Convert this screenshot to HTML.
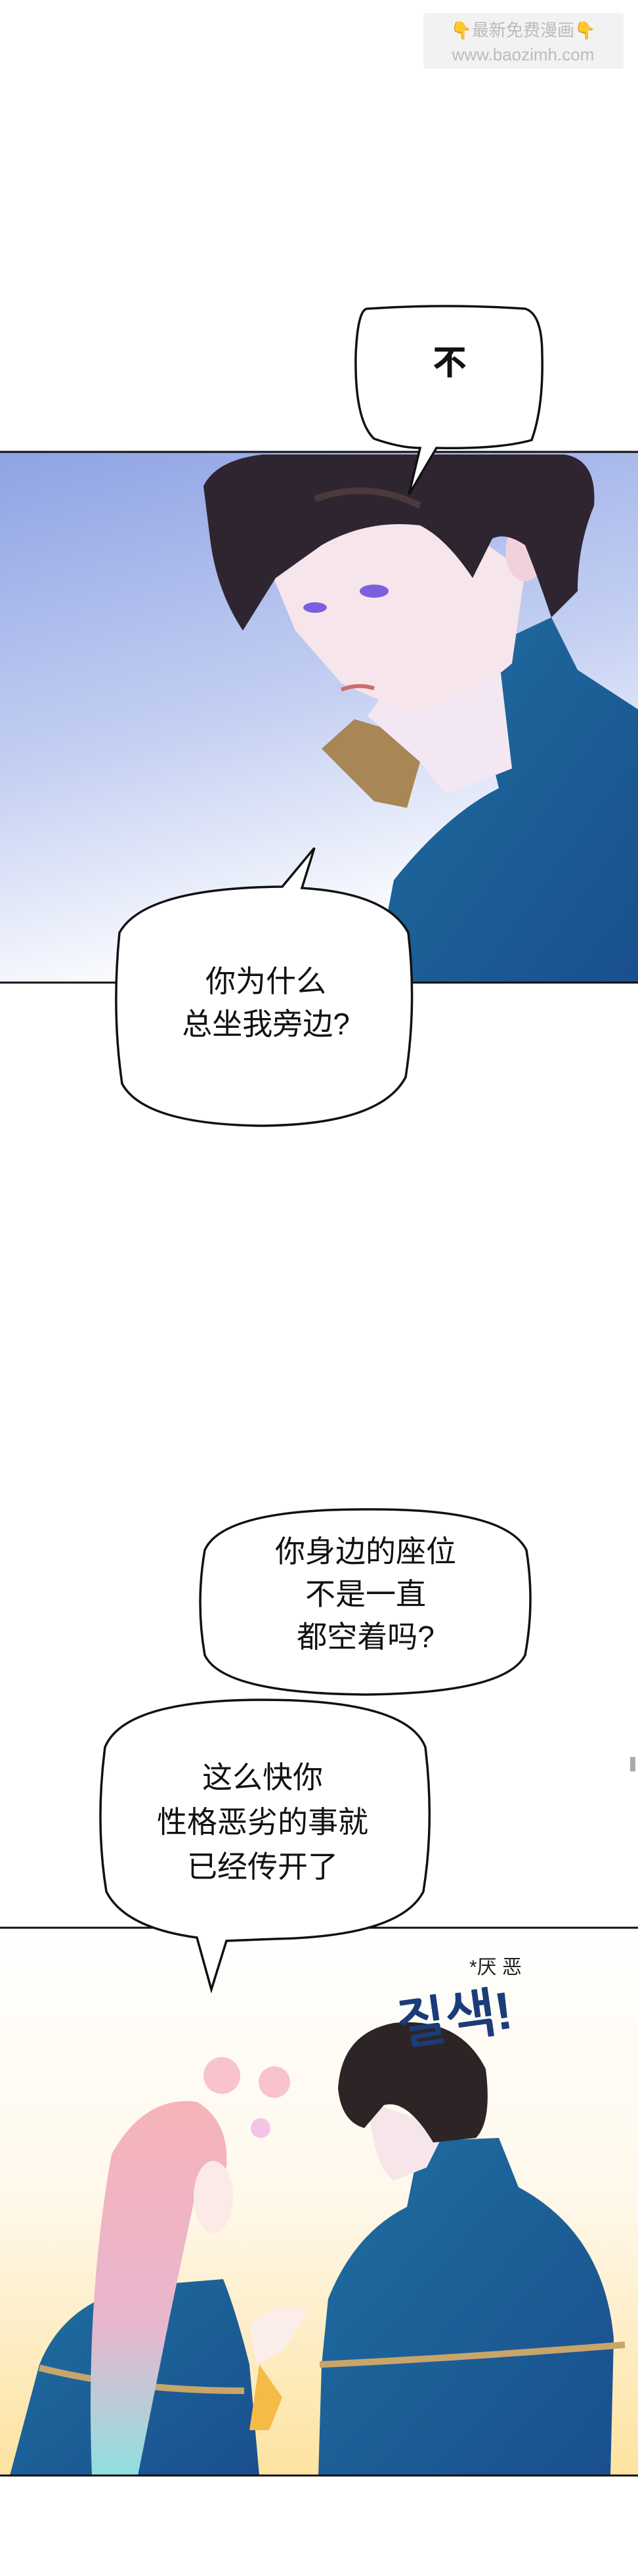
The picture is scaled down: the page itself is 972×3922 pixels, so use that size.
<!DOCTYPE html>
<html><head><meta charset="utf-8"><style>
html,body{margin:0;padding:0;background:#fff;}
body{width:972px;height:3922px;position:relative;overflow:hidden;font-family:"Liberation Sans","Noto Sans CJK SC",sans-serif;}
svg{position:absolute;left:0;top:0;}
</style></head><body>
<svg width="972" height="3922" viewBox="0 0 972 3922" xmlns="http://www.w3.org/2000/svg">
<defs>
<linearGradient id="sky" x1="0" y1="0" x2="0.3" y2="1">
<stop offset="0" stop-color="#8fa3e4"/><stop offset="0.55" stop-color="#c3cff2"/><stop offset="1" stop-color="#ffffff"/></linearGradient>
<linearGradient id="warm" x1="0" y1="0" x2="0" y2="1">
<stop offset="0" stop-color="#ffffff"/><stop offset="0.5" stop-color="#fff8ea"/><stop offset="1" stop-color="#fde3a0"/></linearGradient>
<linearGradient id="cloak" x1="0" y1="0" x2="1" y2="1">
<stop offset="0" stop-color="#1e6fa0"/><stop offset="1" stop-color="#1a4f8e"/></linearGradient>
<linearGradient id="phair" x1="0" y1="0" x2="0" y2="1">
<stop offset="0" stop-color="#f6b3b8"/><stop offset="0.6" stop-color="#e9b6cf"/><stop offset="1" stop-color="#8fe0e0"/></linearGradient>
</defs>

<!-- watermark -->
<rect x="645" y="20" width="305" height="85" rx="4" fill="#f2f2f2"/>
<text x="797" y="55" font-size="26" text-anchor="middle" fill="#bbb">👇最新免费漫画👇</text>
<text x="797" y="92" font-size="26" text-anchor="middle" fill="#bbb">www.baozimh.com</text>

<!-- Panel 1 -->
<rect x="0" y="688" width="972" height="808" fill="url(#sky)"/>
<path d="M570 1496 L600 1340 Q680 1240 760 1200 L712 1000 L840 940 L880 1020 L972 1080 L972 1496 Z" fill="url(#cloak)"/>
<path d="M490 1140 L540 1095 L590 1110 L640 1160 L620 1230 L570 1220 Z" fill="#a88655"/>
<path d="M560 1090 L610 1020 L710 980 L760 1000 L780 1170 L680 1210 L640 1160 Z" fill="#f3e7f4"/>
<path d="M400 840 Q520 780 700 800 L800 870 L780 1010 Q700 1080 610 1080 L520 1040 L450 960 Z" fill="#f7e5ec"/>
<ellipse cx="800" cy="840" rx="30" ry="45" fill="#f1d2dc"/>
<path d="M520 1050 Q545 1040 570 1048" stroke="#d26a6a" stroke-width="6" fill="none"/>
<ellipse cx="570" cy="900" rx="22" ry="10" fill="#7a5fe0"/>
<ellipse cx="480" cy="925" rx="18" ry="8" fill="#7a5fe0"/>
<path d="M310 740 Q330 700 400 692 L860 692 Q910 700 905 770 Q880 830 880 900 L840 940 Q820 880 800 830 Q770 810 750 820 L720 880 Q680 820 640 800 Q560 790 490 830 L420 880 L370 960 Q330 900 320 820 Z" fill="#2f2531"/>
<path d="M480 760 Q560 730 640 770" stroke="#4a3a3c" stroke-width="10" fill="none"/>

<line x1="0" y1="688" x2="972" y2="688" stroke="#111" stroke-width="3"/>
<line x1="0" y1="1496" x2="972" y2="1496" stroke="#111" stroke-width="3"/>

<!-- Bubble 不 -->
<path d="M560 470 Q545 470 542 540 Q540 640 570 668 Q610 682 640 682 L623 753 L665 682 Q760 684 810 670 Q828 620 826 540 Q826 478 800 470 Q680 462 560 470 Z" fill="#fff" stroke="#111" stroke-width="3.5"/>
<text x="685" y="570" font-size="52" font-weight="bold" text-anchor="middle" fill="#111">不</text>

<!-- Bubble 2 -->
<path d="M430 1350 L479 1291 L460 1352 Q590 1360 622 1420 Q635 1530 618 1640 Q580 1712 400 1714 Q220 1712 186 1650 Q170 1540 182 1420 Q220 1352 430 1350 Z" fill="#fff" stroke="#111" stroke-width="3.5"/>
<text x="405" y="1510" font-size="46" text-anchor="middle" fill="#111">你为什么</text>
<text x="405" y="1575" font-size="46" text-anchor="middle" fill="#111">总坐我旁边?</text>

<rect x="960" y="2675" width="8" height="22" fill="#aaa"/>

<!-- Panel 2 -->
<rect x="0" y="2935" width="972" height="834" fill="url(#warm)"/>
<path d="M485 3769 L490 3600 L500 3500 Q540 3400 620 3360 L640 3260 L760 3255 L790 3330 Q920 3400 935 3560 L930 3769 Z" fill="url(#cloak)"/>
<path d="M487 3600 Q700 3590 952 3570" stroke="#c8a56a" stroke-width="10" fill="none"/>
<path d="M560 3200 Q570 3300 600 3320 L650 3300 L680 3240 Z" fill="#f6e6ea"/>
<path d="M515 3180 Q520 3095 600 3080 Q700 3070 740 3150 Q750 3230 725 3255 L660 3262 Q620 3195 585 3205 L555 3240 Q520 3230 515 3180 Z" fill="#2d2426"/>
<path d="M15 3769 L60 3600 Q100 3500 220 3480 L340 3470 Q360 3520 380 3600 L395 3769 Z" fill="url(#cloak)"/>
<path d="M60 3605 Q200 3640 372 3640" stroke="#c8a56a" stroke-width="10" fill="none"/>
<path d="M140 3769 Q130 3500 170 3280 Q220 3190 300 3200 Q350 3230 345 3300 L300 3330 L260 3520 L210 3769 Z" fill="url(#phair)"/>
<ellipse cx="325" cy="3345" rx="30" ry="55" fill="#fbeae6"/>
<path d="M380 3540 Q420 3500 470 3520 L430 3580 L390 3600 Z" fill="#fbeeea"/>
<path d="M395 3600 L430 3650 L410 3700 L380 3700 Z" fill="#f4bb47"/>
<circle cx="338" cy="3160" r="28" fill="#f8c3cb"/>
<circle cx="418" cy="3170" r="24" fill="#f8c3cb"/>
<circle cx="397" cy="3240" r="15" fill="#f4c4e6"/>
<text x="715" y="3005" font-size="30" fill="#222">*厌 恶</text>
<text x="605" y="3100" font-size="80" font-weight="bold" fill="#1b3c78" transform="rotate(-8 690 3080)" font-family="Liberation Sans,NanumGothic,sans-serif">질색!</text>

<line x1="0" y1="2935" x2="972" y2="2935" stroke="#111" stroke-width="3"/>
<line x1="0" y1="3769" x2="972" y2="3769" stroke="#111" stroke-width="3"/>

<!-- Bubble 3 -->
<path d="M555 2298 Q770 2296 802 2360 Q815 2440 800 2520 Q770 2578 555 2580 Q340 2578 312 2520 Q298 2440 312 2360 Q340 2298 555 2298 Z" fill="#fff" stroke="#111" stroke-width="3.5"/>
<text x="557" y="2378" font-size="46" text-anchor="middle" fill="#111">你身边的座位</text>
<text x="557" y="2443" font-size="46" text-anchor="middle" fill="#111">不是一直</text>
<text x="557" y="2508" font-size="46" text-anchor="middle" fill="#111">都空着吗?</text>

<!-- Bubble 4 (over panel line) -->
<path d="M400 2588 Q620 2588 648 2660 Q662 2775 645 2880 Q610 2948 420 2952 L345 2955 L322 3029 L300 2950 Q190 2935 162 2880 Q145 2775 160 2660 Q190 2588 400 2588 Z" fill="#fff" stroke="#111" stroke-width="3.5"/>
<text x="400" y="2722" font-size="46" text-anchor="middle" fill="#111">这么快你</text>
<text x="400" y="2790" font-size="46" text-anchor="middle" fill="#111">性格恶劣的事就</text>
<text x="400" y="2858" font-size="46" text-anchor="middle" fill="#111">已经传开了</text>
</svg>
</body></html>
